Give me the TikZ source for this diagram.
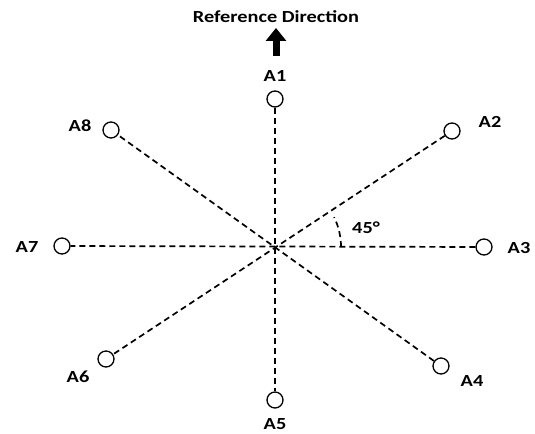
\documentclass[tikz,border=0pt]{standalone}
\usepackage{fontspec}
\setmainfont{Carlito}[FakeStretch=1.2]
\usetikzlibrary{arrows.meta}
\begin{document}
\begin{tikzpicture}[x=1bp,y=-1bp,
  ant/.style={circle,draw,line width=1.3bp,minimum size=16bp,inner sep=0pt},
  lab/.style={font=\fontsize{17}{17}\selectfont\bfseries,inner sep=0pt},
  dline/.style={dash pattern=on 6bp off 4bp,line width=1.7bp},
]
\useasboundingbox (0,0) rectangle (535,434);
\coordinate (C) at (273,247);
\node[ant] (A1) at (275,99) {};
\node[ant] (A2) at (452,131) {};
\node[ant] (A3) at (484,247) {};
\node[ant] (A4) at (441,366) {};
\node[ant] (A5) at (275,400) {};
\node[ant] (A6) at (106,359) {};
\node[ant] (A7) at (62,246) {};
\node[ant] (A8) at (111,130) {};
\node[lab] (L1) at (275,76) {A1};
\node[lab] (L2) at (490,122) {A2};
\node[lab] (L3) at (519,248) {A3};
\node[lab] (L4) at (472,381) {A4};
\node[lab] (L5) at (275,424) {A5};
\node[lab] (L6) at (78,377) {A6};
\node[lab] (L7) at (27,247) {A7};
\node[lab] (L8) at (80,126) {A8};
\draw[dline] (A1) -- (A5);
\draw[dline] (A2) -- (A6);
\draw[dline] (A3) -- (A7);
\draw[dline] (A4) -- (A8);
\draw[dline] (341,247) arc[start angle=0,end angle=-26,radius=68];
\node[lab] (ang) at (366,228) {45°};
\node[lab] (ref) at (276,17) {Reference Direction};
\coordinate (tb) at (276,56);
\coordinate (tt) at (276,28);
\draw[line width=7bp,-{Triangle[width=20bp,length=13bp]}] (tb) -- (tt);
\end{tikzpicture}
\end{document}
